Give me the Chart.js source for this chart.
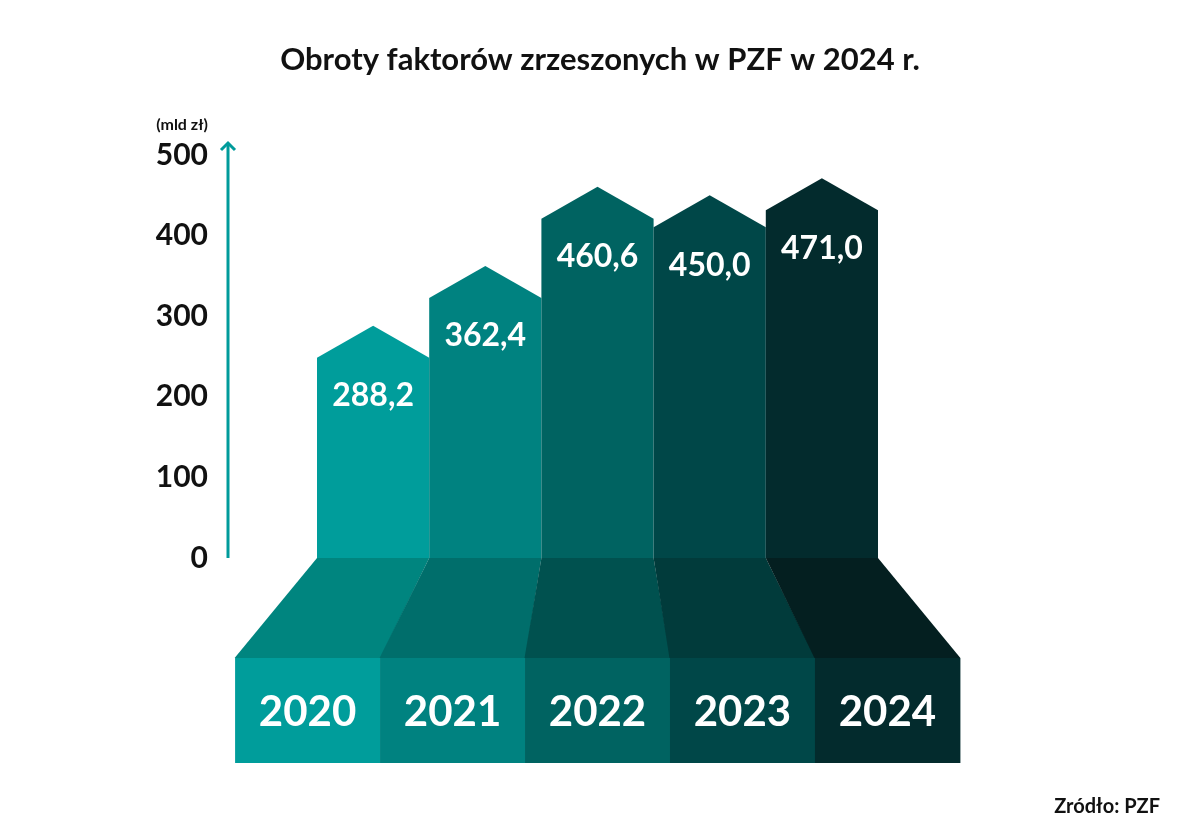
<!DOCTYPE html>
<html>
<head>
<meta charset="utf-8">
<script src="https://cdn.jsdelivr.net/npm/chart.js@4/dist/chart.umd.min.js"></script>
<style>
  html, body { margin: 0; padding: 0; background: #fff; }
  #wrap { width: 1200px; height: 840px; }
</style>
</head>
<body>
<div id="wrap"><canvas id="chart" width="1200" height="840"></canvas></div>
<script>
const years = ['2020', '2021', '2022', '2023', '2024'];
const turnover = [288.2, 362.4, 460.6, 450.0, 471.0];
const yTicks = [0, 100, 200, 300, 400, 500];

const barColors = ['#009d9b', '#008280', '#006361', '#004748', '#032b2d'];
const floorColors = ['#00857f', '#006e6b', '#00514f', '#013b3b', '#041f20'];
const frontColors = ['#009d9b', '#008280', '#006361', '#004748', '#032b2d'];

const FONT = 'Lato, "Open Sans", sans-serif';
const AXIS_COLOR = '#009b9b';

const fmt = v => v.toFixed(1).replace('.', ',');

const decor = {
    id: 'decor',
    afterDatasetsDraw(chart) {
        const ctx = chart.ctx;
        const meta = chart.getDatasetMeta(0);
        const area = chart.chartArea;
        const y = chart.scales.y;
        const mid = (area.left + area.right) / 2;
        const spread = 1.292;
        const floorH = 100;
        const frontH = 105;

        ctx.save();

        // arrow bars
        meta.data.forEach((bar, i) => {
            const half = bar.width / 2;
            const l = bar.x - half, r = bar.x + half;
            const shoulder = bar.y + 32;
            ctx.fillStyle = barColors[i];
            ctx.beginPath();
            ctx.moveTo(l, bar.base);
            ctx.lineTo(l, shoulder);
            ctx.lineTo(bar.x, bar.y);
            ctx.lineTo(r, shoulder);
            ctx.lineTo(r, bar.base);
            ctx.closePath();
            ctx.fill();

            ctx.fillStyle = '#ffffff';
            ctx.font = 'bold 32px ' + FONT;
            ctx.textAlign = 'center';
            ctx.textBaseline = 'middle';
            ctx.fillText(fmt(turnover[i]), bar.x, bar.y + 70);
        });

        // perspective floor + front with years
        meta.data.forEach((bar, i) => {
            const half = bar.width / 2;
            const l = bar.x - half, r = bar.x + half;
            const fl = mid + (l - mid) * spread;
            const fr = mid + (r - mid) * spread;
            const top = bar.base;
            ctx.fillStyle = floorColors[i];
            ctx.beginPath();
            ctx.moveTo(l, top);
            ctx.lineTo(r, top);
            ctx.lineTo(fr + 0.5, top + floorH);
            ctx.lineTo(fl - 0.5, top + floorH);
            ctx.closePath();
            ctx.fill();

            ctx.fillStyle = frontColors[i];
            ctx.fillRect(fl, top + floorH, fr - fl + 0.5, frontH);

            ctx.fillStyle = '#ffffff';
            ctx.font = 'bold 42px ' + FONT;
            ctx.textAlign = 'center';
            ctx.textBaseline = 'middle';
            ctx.fillText(years[i], (fl + fr) / 2, top + floorH + frontH / 2 + 2);
        });

        // axis arrow
        const ax = 228;
        const y0 = y.getPixelForValue(0);
        const yTop = y.getPixelForValue(500) - 12;
        ctx.strokeStyle = AXIS_COLOR;
        ctx.lineWidth = 3;
        ctx.beginPath();
        ctx.moveTo(ax, y0);
        ctx.lineTo(ax, yTop);
        ctx.stroke();
        ctx.beginPath();
        ctx.moveTo(ax - 7, yTop + 7);
        ctx.lineTo(ax, yTop);
        ctx.lineTo(ax + 7, yTop + 7);
        ctx.stroke();

        // texts
        ctx.fillStyle = '#111111';
        ctx.textBaseline = 'middle';
        ctx.textAlign = 'center';
        ctx.font = 'bold 31px ' + FONT;
        ctx.fillText('Obroty faktorów zrzeszonych w PZF w 2024 r.', 600, 60);
        ctx.font = 'bold 16px ' + FONT;
        ctx.fillText('(mld zł)', 182, 125);
        ctx.textAlign = 'right';
        ctx.font = 'bold 20px ' + FONT;
        ctx.fillText('Zródło: PZF', 1160, 807);

        ctx.restore();
    }
};

new Chart(document.getElementById('chart').getContext('2d'), {
    type: 'bar',
    data: {
        labels: years,
        datasets: [{
            data: turnover,
            backgroundColor: 'rgba(0,0,0,0)',
            borderWidth: 0,
            barPercentage: 1.0,
            categoryPercentage: 1.0,
        }],
    },
    options: {
        responsive: false,
        animation: false,
        maintainAspectRatio: false,
        layout: {
            padding: { left: 100, right: 322, top: 155, bottom: 282 },
        },
        plugins: {
            legend: { display: false },
            tooltip: { enabled: false },
        },
        scales: {
            x: { display: false },
            y: {
                min: 0,
                max: 500,
                afterFit: scale => { scale.width = 217; },
                afterBuildTicks: scale => { scale.ticks = yTicks.map(v => ({ value: v })); },
                grid: { display: false, drawTicks: false },
                border: { display: false },
                ticks: {
                    padding: 109,
                    color: '#111111',
                    font: { family: FONT, size: 30, weight: 'bold' },
                },
            },
        },
    },
    plugins: [decor],
});
</script>
</body>
</html>
